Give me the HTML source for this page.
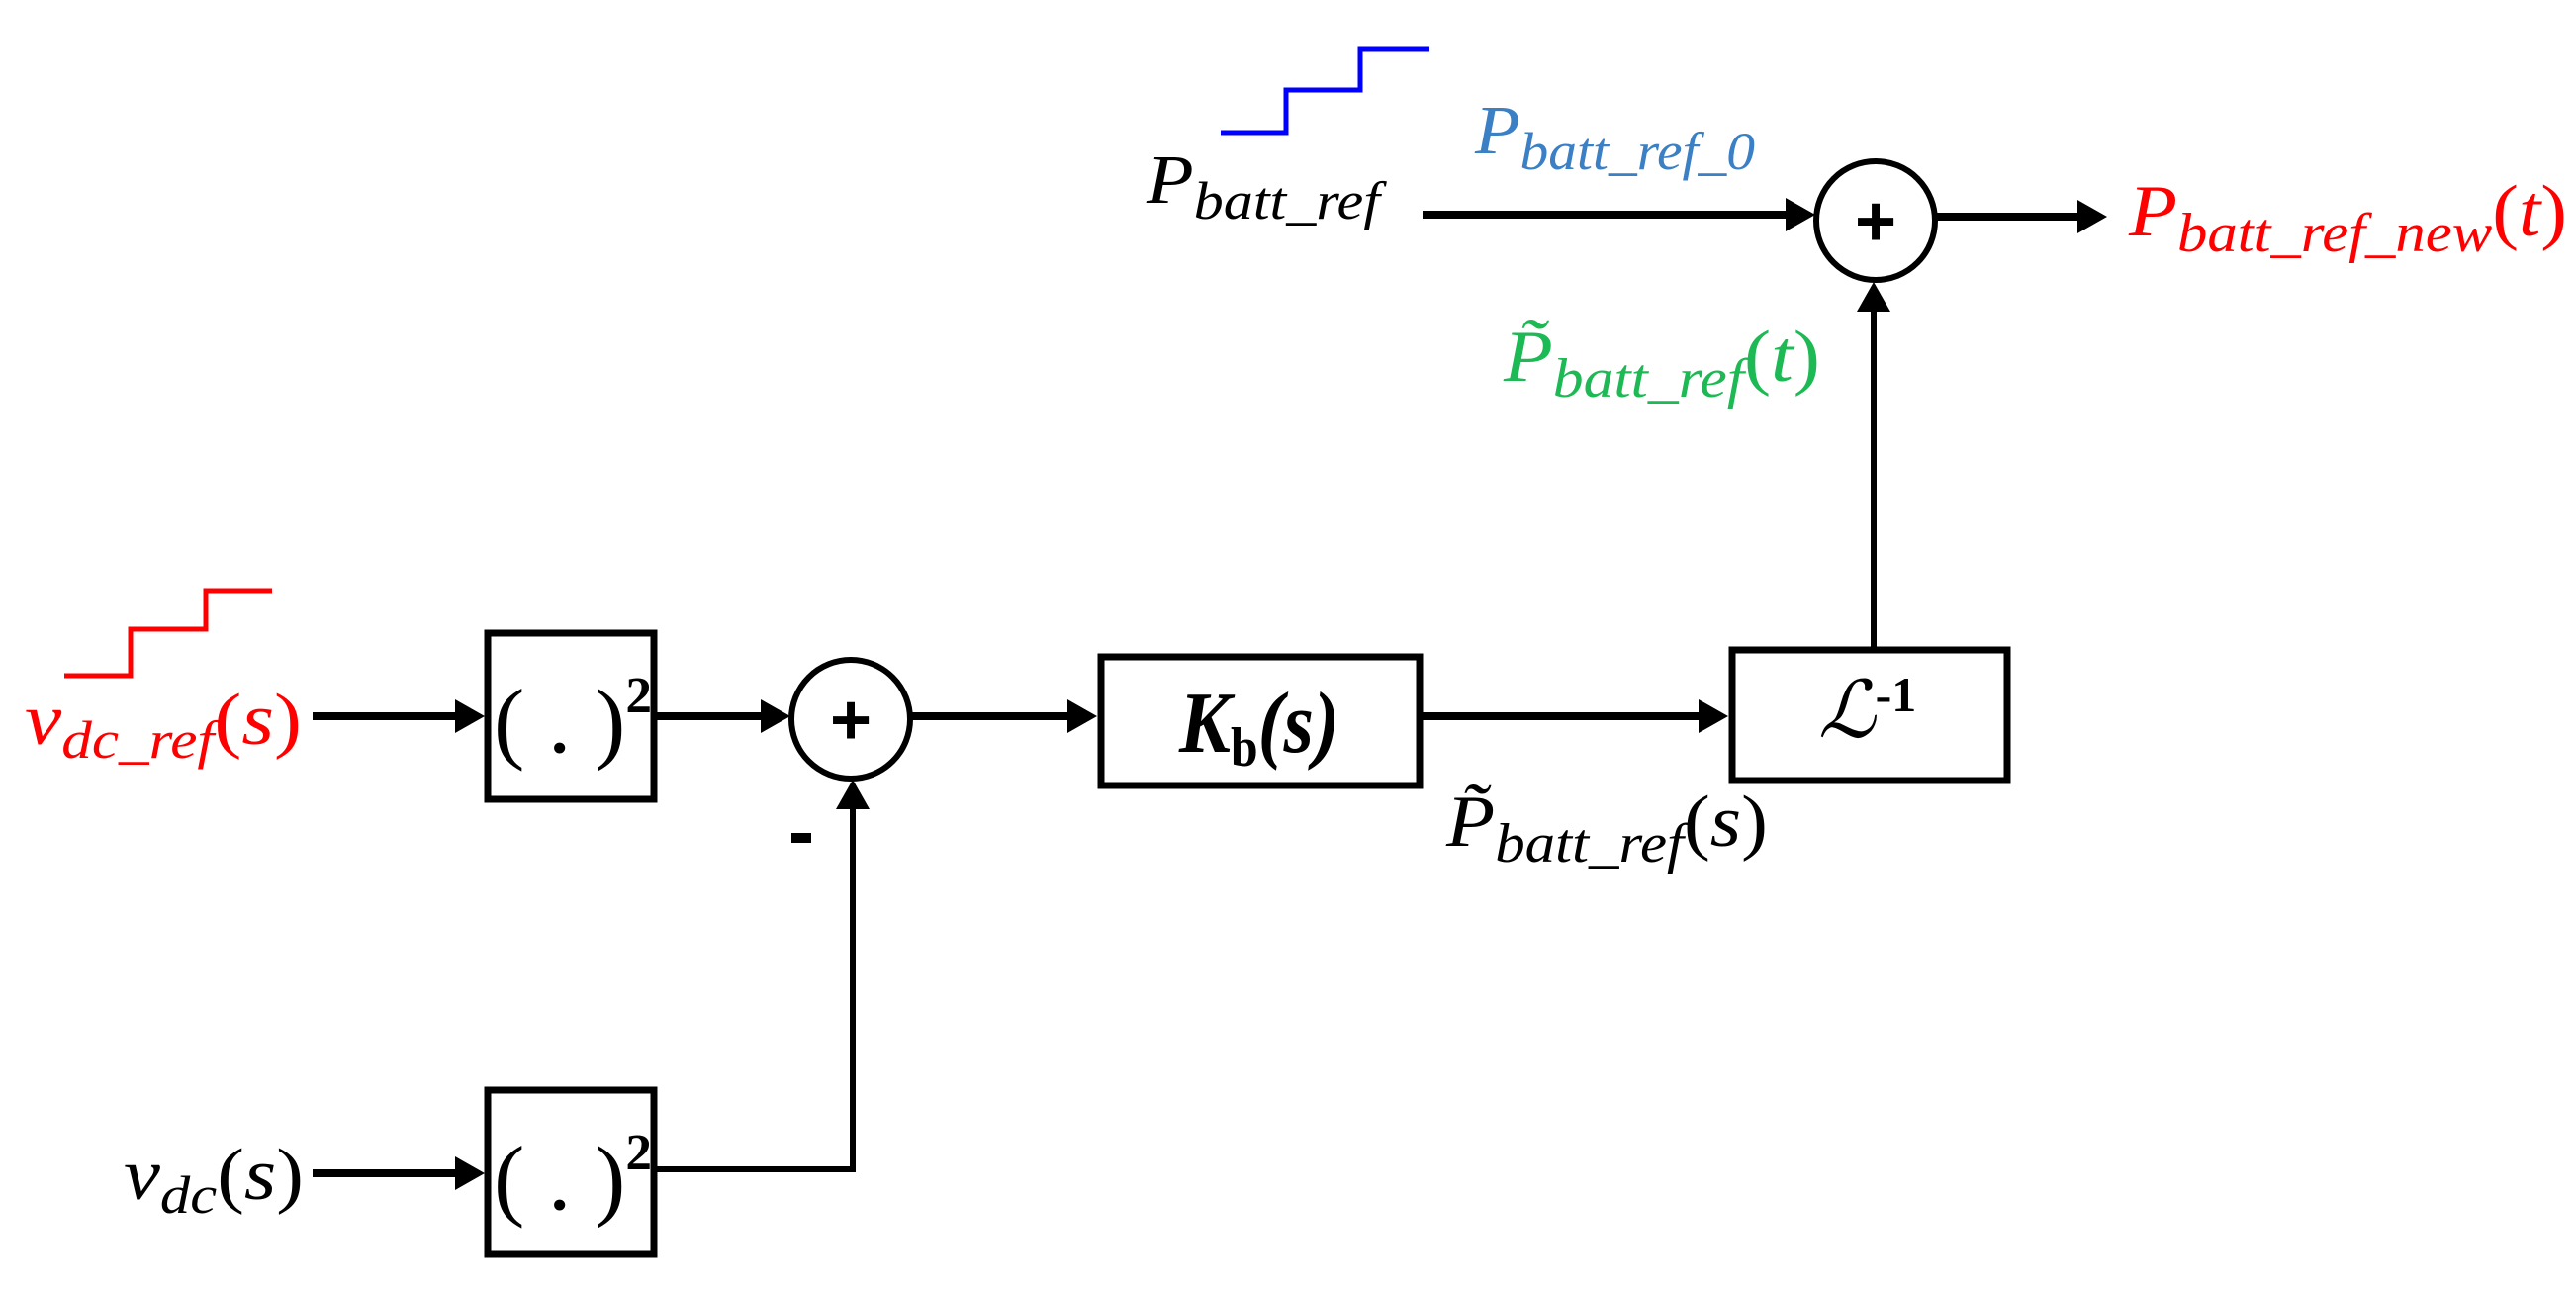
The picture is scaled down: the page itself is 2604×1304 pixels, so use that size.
<!DOCTYPE html>
<html><head><meta charset="utf-8"><style>html,body{margin:0;padding:0;background:#fff}svg{display:block}</style></head>
<body>
<svg width="2604" height="1304" viewBox="0 0 2604 1304" xmlns="http://www.w3.org/2000/svg">
<g fill="none" stroke-linejoin="miter">
<polyline points="65,683 132,683 132,636 208,636 208,597 275,597" stroke="#f00" stroke-width="5"/>
<polyline points="1234,134 1300,134 1300,91 1375,91 1375,50 1445,50" stroke="#00f" stroke-width="5"/>
<rect x="493" y="640" width="168" height="168" stroke="#000" stroke-width="7"/>
<rect x="493" y="1102" width="168" height="166" stroke="#000" stroke-width="7"/>
<rect x="1113" y="664" width="322" height="130" stroke="#000" stroke-width="7"/>
<rect x="1751" y="657" width="278" height="132" stroke="#000" stroke-width="7"/>
<circle cx="860" cy="727" r="60" stroke="#000" stroke-width="6"/>
<circle cx="1896" cy="223" r="60" stroke="#000" stroke-width="6"/>
<g stroke="#000" stroke-width="8">
<line x1="316" y1="724" x2="470" y2="724"/>
<line x1="664" y1="724" x2="780" y2="724"/>
<line x1="922" y1="724" x2="1090" y2="724"/>
<line x1="1438" y1="724" x2="1728" y2="724"/>
<line x1="316" y1="1186" x2="470" y2="1186"/>
<line x1="1438" y1="217" x2="1815" y2="217"/>
<line x1="1958" y1="219" x2="2110" y2="219"/>
</g>
<g stroke="#000" stroke-width="6">
<polyline points="664,1182 862,1182 862,810"/>
<line x1="1894" y1="657" x2="1894" y2="305"/>
</g>
</g>
<g fill="#000">
<polygon points="460,707 490,724 460,741"/>
<polygon points="769,707 799,724 769,741"/>
<polygon points="1079,707 1109,724 1079,741"/>
<polygon points="1717,707 1747,724 1717,741"/>
<polygon points="460,1169 490,1186 460,1203"/>
<polygon points="1805,200 1835,217 1805,234"/>
<polygon points="2100,202 2130,219 2100,236"/>
<polygon points="845,818 862,788 879,818"/>
<polygon points="1877,315 1894,285 1911,315"/>
</g>
<g font-family="Liberation Serif, serif" fill="#000">
<text x="860" y="752" font-size="72" font-weight="bold" text-anchor="middle" font-family="Liberation Sans, sans-serif">+</text>
<text x="1896" y="248" font-size="72" font-weight="bold" text-anchor="middle" font-family="Liberation Sans, sans-serif">+</text>
<rect x="800" y="842" width="20" height="10"/>
<text x="499" y="760" font-size="92" textLength="160" lengthAdjust="spacingAndGlyphs">( . )<tspan font-size="52" font-weight="bold" dy="-40">2</tspan></text>
<text x="499" y="1222" font-size="92" textLength="160" lengthAdjust="spacingAndGlyphs">( . )<tspan font-size="52" font-weight="bold" dy="-40">2</tspan></text>
<text x="1192" y="760" font-size="88" font-weight="bold" font-style="italic" textLength="162" lengthAdjust="spacingAndGlyphs">K<tspan font-size="56" dy="14" font-style="normal">b</tspan><tspan dy="-14">(s)</tspan></text>
<text x="1838" y="745" font-size="80" font-style="italic">ℒ<tspan font-size="50" font-weight="bold" font-style="normal" dy="-26">-1</tspan></text>
<g font-style="italic">
<text x="25" y="752" font-size="74" fill="#f00" textLength="280" lengthAdjust="spacingAndGlyphs">v<tspan font-size="54" dy="14">dc_ref</tspan><tspan dy="-14" font-style="normal">(</tspan>s<tspan font-style="normal">)</tspan></text>
<text x="125" y="1212" font-size="74" textLength="182" lengthAdjust="spacingAndGlyphs">v<tspan font-size="54" dy="14">dc</tspan><tspan dy="-14" font-style="normal">(</tspan>s<tspan font-style="normal">)</tspan></text>
<text x="1159" y="205" font-size="70" textLength="236" lengthAdjust="spacingAndGlyphs">P<tspan font-size="54" dy="16">batt_ref</tspan></text>
<text x="1491" y="155" font-size="70" fill="#3b7fc4" textLength="283" lengthAdjust="spacingAndGlyphs">P<tspan font-size="54" dy="16">batt_ref_0</tspan></text>
<text x="2152" y="238" font-size="74" fill="#f00" textLength="443" lengthAdjust="spacingAndGlyphs">P<tspan font-size="56" dy="16">batt_ref_new</tspan><tspan dy="-16" font-style="normal">(</tspan>t<tspan font-style="normal">)</tspan></text>
<text x="1520" y="385" font-size="74" fill="#1db954" textLength="320" lengthAdjust="spacingAndGlyphs">P̃<tspan font-size="56" dy="16">batt_ref</tspan><tspan dy="-16" font-style="normal">(</tspan>t<tspan font-style="normal">)</tspan></text>
<text x="1462" y="855" font-size="74" textLength="325" lengthAdjust="spacingAndGlyphs">P̃<tspan font-size="56" dy="16">batt_ref</tspan><tspan dy="-16" font-style="normal">(</tspan>s<tspan font-style="normal">)</tspan></text>
</g>
</g>
</svg>
</body></html>
